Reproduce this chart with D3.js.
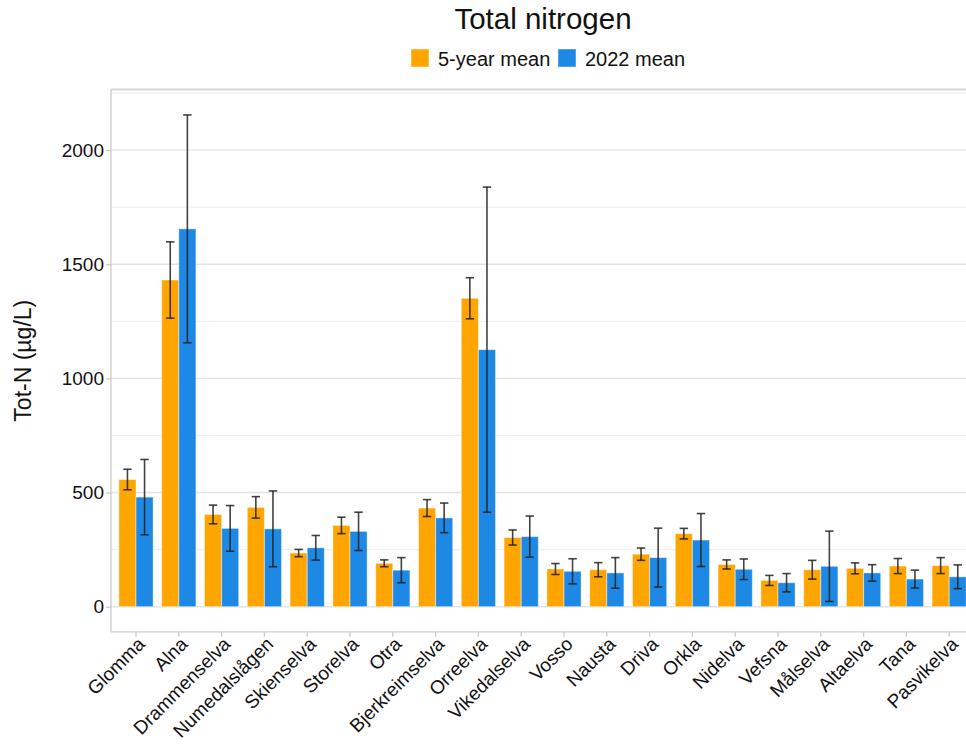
<!DOCTYPE html>
<html>
<head>
<meta charset="utf-8">
<script src="https://cdn.jsdelivr.net/npm/d3@7"></script>
<style>
  html, body { margin: 0; padding: 0; background: #fff; }
  svg { display: block; font-family: "Liberation Sans", Arial, sans-serif; }
</style>
</head>
<body>
<svg id="chart" width="966" height="746"></svg>
<script>
// River stations
const categories = ["Glomma", "Alna", "Drammenselva", "Numedalslågen", "Skienselva", "Storelva",
  "Otra", "Bjerkreimselva", "Orreelva", "Vikedalselva", "Vosso", "Nausta", "Driva", "Orkla",
  "Nidelva", "Vefsna", "Målselva", "Altaelva", "Tana", "Pasvikelva"];

// Series labels
const seriesNames = ["5-year mean", "2022 mean"];

// 5-year mean total nitrogen (µg/L) and its error
const mean5yr = [557, 1431, 404, 435, 235, 356, 190, 432, 1351, 303, 165, 162, 230, 320, 185, 115, 162, 168, 178, 180];
const err5yr  = [45, 167, 41, 47, 16, 36, 15, 37, 90, 33, 24, 31, 27, 23, 20, 22, 41, 24, 33, 35];

// 2022 mean total nitrogen (µg/L) and its error
const mean2022 = [480, 1655, 343, 341, 258, 330, 160, 389, 1126, 307, 155, 148, 215, 292, 164, 105, 177, 148, 121, 131];
const err2022  = [165, 499, 100, 166, 54, 84, 55, 65, 712, 90, 55, 67, 129, 116, 45, 40, 154, 36, 39, 52];

// Axis ticks
const yTicks = [0, 500, 1000, 1500, 2000];
const yMinorGrid = [250, 750, 1250, 1750, 2250];

const colors = ["#FFA500", "#1E88E5"];

const svg = d3.select("#chart");

const plot = { left: 111, right: 980, top: 89.6, bottom: 631.8 };

const x = d3.scaleBand()
  .domain(categories)
  .range([114.6, 970.6])
  .paddingInner(0.2)
  .paddingOuter(0.1);

const xSub = d3.scaleBand()
  .domain(seriesNames)
  .range([0, x.bandwidth()]);

const y = d3.scaleLinear()
  .domain([-110, 2265])
  .range([plot.bottom, plot.top]);

// Grid lines
svg.append("g").selectAll("line.minor")
  .data(yMinorGrid.filter(v => y(v) > plot.top + 2))
  .join("line")
  .attr("x1", plot.left).attr("x2", plot.right)
  .attr("y1", d => y(d)).attr("y2", d => y(d))
  .attr("stroke", "#eeeeee").attr("stroke-width", 1);

svg.append("g").selectAll("line.major")
  .data(yTicks)
  .join("line")
  .attr("x1", plot.left).attr("x2", plot.right)
  .attr("y1", d => y(d)).attr("y2", d => y(d))
  .attr("stroke", "#e3e3e3").attr("stroke-width", 1.4);

// Plot frame
svg.append("line")
  .attr("x1", plot.left).attr("x2", plot.right)
  .attr("y1", plot.top).attr("y2", plot.top)
  .attr("stroke", "#d9d9d9").attr("stroke-width", 2);

// Bars
const rows = categories.map((c, i) => ({
  cat: c,
  vals: [
    { s: seriesNames[0], v: mean5yr[i], e: err5yr[i], c: colors[0] },
    { s: seriesNames[1], v: mean2022[i], e: err2022[i], c: colors[1] }
  ]
}));

const groups = svg.append("g").selectAll("g")
  .data(rows)
  .join("g")
  .attr("transform", d => `translate(${x(d.cat)},0)`);

groups.selectAll("rect")
  .data(d => d.vals)
  .join("rect")
  .attr("x", d => xSub(d.s))
  .attr("width", xSub.bandwidth())
  .attr("y", d => y(d.v))
  .attr("height", d => y(0) - y(d.v))
  .attr("fill", d => d.c)
  .attr("stroke", "rgba(255,255,255,0.45)")
  .attr("stroke-width", 1);

// Error bars
const capHalf = 4.2;
const eb = groups.selectAll("g.err")
  .data(d => d.vals)
  .join("g")
  .attr("class", "err")
  .attr("stroke", "#222")
  .attr("stroke-opacity", 0.85)
  .attr("stroke-width", 1.6);

eb.append("line")
  .attr("x1", d => xSub(d.s) + xSub.bandwidth() / 2)
  .attr("x2", d => xSub(d.s) + xSub.bandwidth() / 2)
  .attr("y1", d => y(d.v - d.e))
  .attr("y2", d => y(d.v + d.e));
eb.append("line")
  .attr("x1", d => xSub(d.s) + xSub.bandwidth() / 2 - capHalf)
  .attr("x2", d => xSub(d.s) + xSub.bandwidth() / 2 + capHalf)
  .attr("y1", d => y(d.v + d.e))
  .attr("y2", d => y(d.v + d.e));
eb.append("line")
  .attr("x1", d => xSub(d.s) + xSub.bandwidth() / 2 - capHalf)
  .attr("x2", d => xSub(d.s) + xSub.bandwidth() / 2 + capHalf)
  .attr("y1", d => y(d.v - d.e))
  .attr("y2", d => y(d.v - d.e));

// Y axis
const yAxis = svg.append("g")
  .attr("transform", `translate(${plot.left},0)`)
  .call(d3.axisLeft(y).tickValues(yTicks).tickSize(5).tickPadding(2).tickFormat(d3.format("d")));
yAxis.select(".domain")
  .attr("d", `M0,${plot.top}V${plot.bottom}`)
  .attr("stroke", "#cccccc").attr("stroke-width", 1.3);
yAxis.selectAll(".tick line").attr("stroke", "#cccccc").attr("stroke-width", 1.3);
yAxis.selectAll(".tick text")
  .attr("fill", "#111").style("font-size", "19px")
  .style("font-family", "'Liberation Sans', Arial, sans-serif");

// X axis
const xAxis = svg.append("g")
  .attr("transform", `translate(0,${plot.bottom})`)
  .call(d3.axisBottom(x).tickSize(5).tickPadding(0));
xAxis.select(".domain")
  .attr("d", `M${plot.left},0H${plot.right}`)
  .attr("stroke", "#cccccc").attr("stroke-width", 1.3);
xAxis.selectAll(".tick line").attr("stroke", "#cccccc").attr("stroke-width", 1.3);
xAxis.selectAll(".tick text")
  .attr("fill", "#111")
  .style("font-size", "19px")
  .style("font-family", "'Liberation Sans', Arial, sans-serif")
  .attr("text-anchor", "end")
  .attr("y", 0)
  .attr("dy", 0)
  .attr("transform", "translate(10,13.5) rotate(-45)");

// Y axis title
svg.append("text")
  .attr("transform", `translate(31,${(plot.top + plot.bottom) / 2}) rotate(-90)`)
  .attr("text-anchor", "middle")
  .attr("fill", "#111")
  .style("font-size", "23px")
  .text("Tot-N (µg/L)");

// Title
svg.append("text")
  .attr("x", 543)
  .attr("y", 29)
  .attr("text-anchor", "middle")
  .attr("fill", "#111")
  .style("font-size", "29.5px")
  .text("Total nitrogen");

// Legend
const legend = svg.append("g");
const legendItems = [
  { name: seriesNames[0], c: colors[0], x: 411 },
  { name: seriesNames[1], c: colors[1], x: 558 }
];
const li = legend.selectAll("g")
  .data(legendItems)
  .join("g")
  .attr("transform", d => `translate(${d.x},49)`);
li.append("rect")
  .attr("width", 18).attr("height", 18)
  .attr("fill", d => d.c)
  .attr("stroke", "rgba(255,255,255,0.45)");
li.append("text")
  .attr("x", 27).attr("y", 16.5)
  .attr("fill", "#111")
  .style("font-size", "20px")
  .text(d => d.name);
</script>
</body>
</html>
